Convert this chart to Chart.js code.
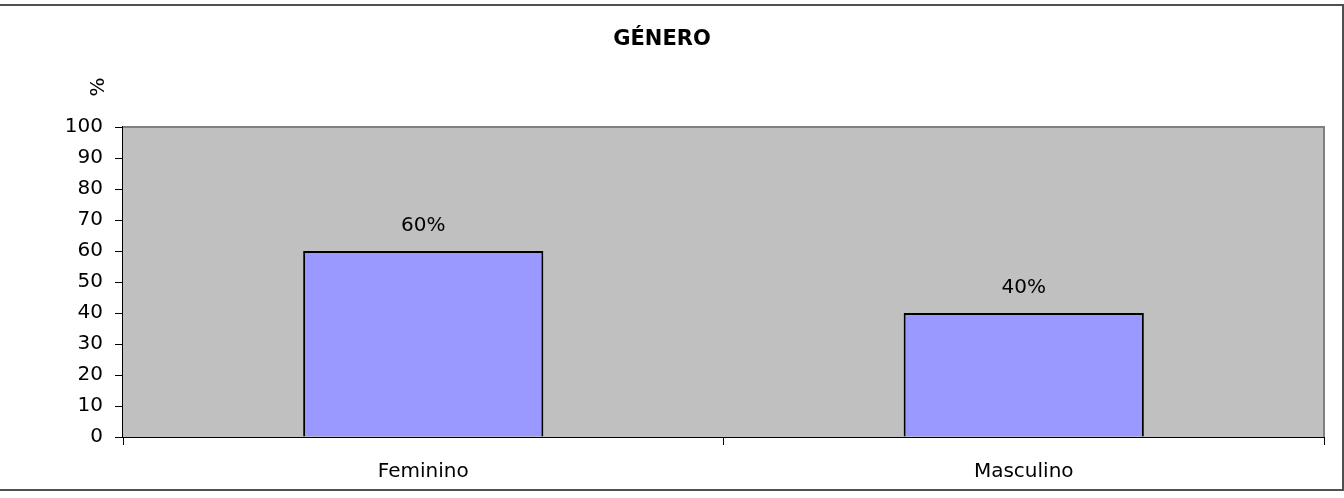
<!DOCTYPE html>
<html>
<head>
<meta charset="utf-8">
<script src="https://cdn.jsdelivr.net/npm/chart.js@4"></script>
<style>
  html, body { margin: 0; padding: 0; background: #fff; }
  #wrap { width: 1344px; height: 498px; }
</style>
</head>
<body>
<div id="wrap"><canvas id="myChart"></canvas></div>
<script>
  const categories = ["Feminino", "Masculino"];
  const percentages = [60, 40];
  const valueLabels = ["60%", "40%"];
  const chartTitle = "GÉNERO";
  const yAxisLabel = "%";

  const font = "'DejaVu Sans', Arial, sans-serif";

  // gray plot background + frame, the "%" label and value labels
  const decorations = {
    id: "decorations",
    beforeDatasetsDraw(chart) {
      const { ctx, chartArea: a } = chart;
      ctx.save();
      ctx.fillStyle = "#c0c0c0";
      ctx.fillRect(a.left, a.top, a.right - a.left, a.bottom - a.top);
      ctx.strokeStyle = "#808080";
      ctx.lineWidth = 2;
      ctx.beginPath();
      ctx.moveTo(a.left, a.top);
      ctx.lineTo(a.right, a.top);
      ctx.lineTo(a.right, a.bottom);
      ctx.stroke();
      ctx.restore();
    },
    afterDraw(chart) {
      const { ctx } = chart;
      ctx.save();
      // outer frame
      ctx.strokeStyle = "#505050";
      ctx.lineWidth = 2;
      ctx.strokeRect(-5, 5, 1348, 485);

      ctx.fillStyle = "#000";
      ctx.font = "20px " + font;
      ctx.textAlign = "center";
      ctx.textBaseline = "middle";
      // value labels
      const meta = chart.getDatasetMeta(0);
      meta.data.forEach((bar, i) => {
        ctx.fillText(valueLabels[i], bar.x, bar.y - 25);
      });
      // rotated axis label
      ctx.translate(99, 87);
      ctx.rotate(-Math.PI / 2);
      ctx.fillText(yAxisLabel, 0, 0);
      ctx.restore();
    }
  };

  const config = {
    type: "bar",
    data: {
      labels: categories,
      datasets: [
        {
          data: percentages,
          backgroundColor: "#9999ff",
          borderColor: "#000",
          borderWidth: 2,
          borderSkipped: "bottom",
          categoryPercentage: 1,
          barPercentage: 0.4,
        },
      ],
    },
    options: {
      responsive: true,
      maintainAspectRatio: false,
      animation: false,
      layout: { padding: { left: 0, right: 20, top: 0, bottom: 0 } },
      plugins: {
        legend: { display: false },
        tooltip: { enabled: false },
        title: {
          display: true,
          text: chartTitle,
          color: "#000",
          font: { family: font, size: 21, weight: "bold" },
          padding: { top: 27.4, bottom: 74.4 },
        },
      },
      scales: {
        x: {
          grid: {
            offset: true,
            drawOnChartArea: false,
            drawTicks: true,
            tickLength: 8,
            color: "#000",
          },
          border: { color: "#000", width: 2 },
          ticks: {
            color: "#000",
            padding: 15,
            font: { family: font, size: 20 },
          },
          afterFit(scale) {
            scale.height = 61;
          },
        },
        y: {
          min: 0,
          max: 100,
          grid: {
            drawOnChartArea: false,
            drawTicks: true,
            tickLength: 8,
            color: "#000",
          },
          border: { color: "#000", width: 2 },
          ticks: {
            stepSize: 10,
            color: "#000",
            padding: 12,
            font: { family: font, size: 20 },
          },
          afterFit(scale) {
            scale.width = 123;
          },
        },
      },
    },
    plugins: [decorations],
  };

  new Chart(document.getElementById("myChart"), config);
</script>
</body>
</html>
